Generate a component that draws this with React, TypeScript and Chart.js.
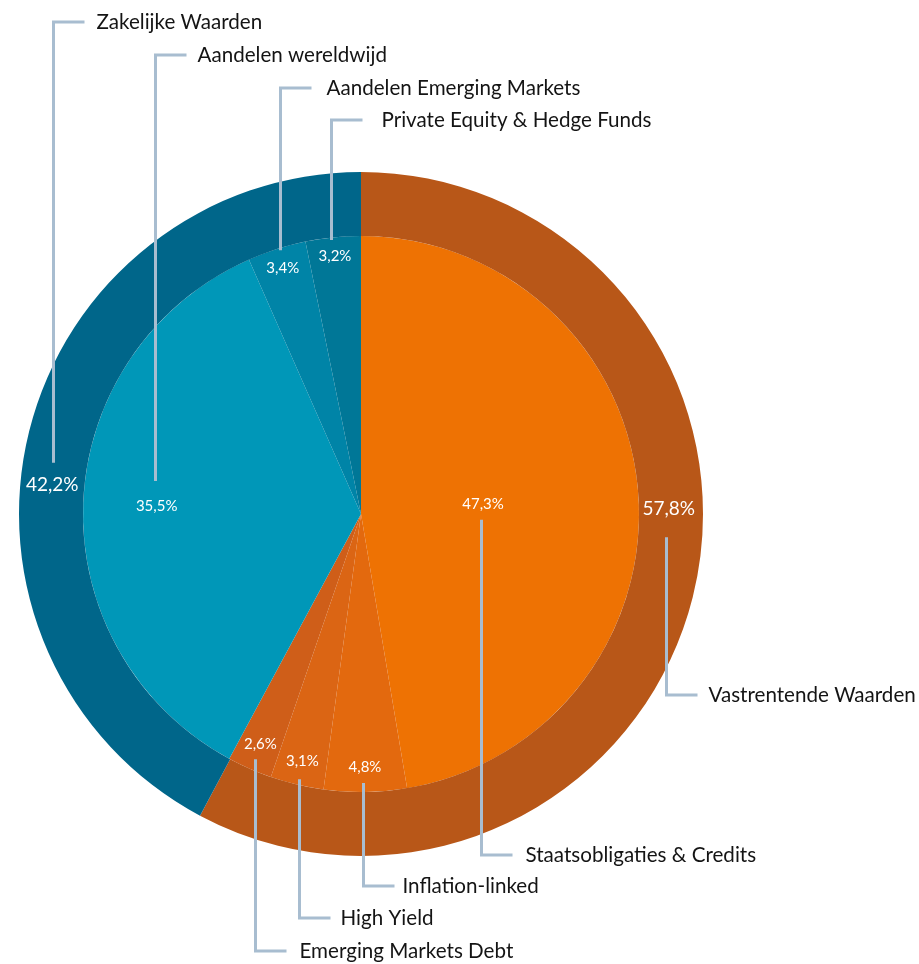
import React, { useEffect, useRef } from "react";
import { Chart, registerables } from "chart.js";

Chart.register(...registerables);

// ---- data ----
const outerLabels = ["Vastrentende Waarden", "Zakelijke Waarden"];
const outerValues = [57.8, 42.2];
const outerPct = ["57,8%", "42,2%"];

const innerLabels = [
  "Staatsobligaties & Credits",
  "Inflation-linked",
  "High Yield",
  "Emerging Markets Debt",
  "Aandelen wereldwijd",
  "Aandelen Emerging Markets",
  "Private Equity & Hedge Funds",
];
const innerValues = [47.3, 4.8, 3.1, 2.6, 35.5, 3.4, 3.2];
const innerPct = ["47,3%", "4,8%", "3,1%", "2,6%", "35,5%", "3,4%", "3,2%"];

// ---- styles ----
const outerColors = ["#B85718", "#00668A"];
const innerColors = ["#EE7203", "#E3690E", "#DB6514", "#CF5E19", "#0097B8", "#0084A7", "#007797"];
const LEADER = "#A8BDD0";
const TEXT_FONT = "Lato, 'Open Sans', sans-serif";

// label placement (annotation layout): outer labels by angle (deg clockwise from top) & radius fraction of outer radius
const outerLabelLayout = [
  { angle: 89.1, r: 0.9, dir: 1, gap: 28, textY: 695, dx: -3, tx: 42 },
  { angle: 275.4, r: 0.907, dir: -1, gap: 22, textY: 22, dx: 1, tx: 43 },
];
// inner labels placed at slice mid-angle, radius fraction of outer radius
const innerLabelLayout = [
  { r: 0.358, dir: 1, gap: 16, textY: 855, dx: -2, tx: 44 },
  { r: 0.74, dir: 1, gap: 16, textY: 886, dx: -2, tx: 39 },
  { r: 0.743, dir: 1, gap: 18, textY: 918, dx: -3, tx: 41 },
  { r: 0.735, dir: 1, gap: 15, textY: 951, dx: -5, tx: 44 },
  { r: 0.598, dir: -1, gap: 25, textY: 55, dx: -2, tx: 42 },
  { r: 0.754, dir: -1, gap: 18, textY: 88, dx: -3, tx: 46 },
  { r: 0.758, dir: -1, gap: 16, textY: 120, dx: -4, tx: 50 },
];

const labelPlugin = {
  id: "pieLabels",
  afterDraw(chart: any) {
    const ctx = chart.ctx as CanvasRenderingContext2D;
    const m0 = chart.getDatasetMeta(0);
    const m1 = chart.getDatasetMeta(1);
    const a0 = m0.data[0] as any;
    const cx = a0.x;
    const cy = a0.y;
    const R = a0.outerRadius;

    const items: any[] = [];
    outerLabelLayout.forEach((l, i) => {
      const ang = (l.angle * Math.PI) / 180;
      items.push({
        x: cx + Math.sin(ang) * R * l.r,
        y: cy - Math.cos(ang) * R * l.r,
        pct: outerPct[i],
        name: outerLabels[i],
        size: 19,
        l,
      });
    });
    innerLabelLayout.forEach((l, i) => {
      const arc = m1.data[i] as any;
      const mid = (arc.startAngle + arc.endAngle) / 2;
      items.push({
        x: cx + Math.cos(mid) * R * l.r,
        y: cy + Math.sin(mid) * R * l.r,
        pct: innerPct[i],
        name: innerLabels[i],
        size: 15,
        l,
      });
    });

    ctx.save();
    items.forEach((it) => {
      const { l } = it;
      const lx = Math.round(it.x + l.dx) + 0.5;
      // leader line
      ctx.strokeStyle = LEADER;
      ctx.lineWidth = 3;
      ctx.lineCap = "butt";
      ctx.beginPath();
      ctx.moveTo(lx, it.y + l.dir * l.gap);
      ctx.lineTo(lx, l.textY);
      ctx.lineTo(lx + 31, l.textY);
      ctx.stroke();
      // percentage
      ctx.fillStyle = "#FFFFFF";
      ctx.font = `${it.size}px ${TEXT_FONT}`;
      ctx.textAlign = "center";
      ctx.textBaseline = "middle";
      ctx.fillText(it.pct, it.x, it.y);
      // name
      ctx.fillStyle = "#141414";
      ctx.font = `20.6px ${TEXT_FONT}`;
      ctx.textAlign = "left";
      ctx.fillText(it.name, lx + l.tx, l.textY);
    });
    ctx.restore();
  },
};

export default function App() {
  const ref = useRef<HTMLCanvasElement>(null);
  useEffect(() => {
    document.body.style.margin = "0";
    const chart = new Chart(ref.current!, {
      type: "doughnut",
      data: {
        labels: innerLabels,
        datasets: [
          {
            data: outerValues,
            backgroundColor: outerColors,
            borderWidth: 0,
            hoverBorderWidth: 0,
            hoverOffset: 0,
            weight: 64,
          } as any,
          {
            data: innerValues,
            backgroundColor: innerColors,
            borderWidth: 0,
            hoverBorderWidth: 0,
            hoverOffset: 0,
            weight: 278,
          } as any,
        ],
      },
      options: {
        responsive: false,
        animation: false,
        cutout: 0,
        rotation: 0,
        layout: { padding: { left: 19, right: 216, top: 172, bottom: 108 } },
        plugins: {
          legend: { display: false },
          tooltip: { enabled: false },
        },
        events: [],
      },
      plugins: [labelPlugin],
    });
    return () => chart.destroy();
  }, []);
  return (
    <div style={{ position: "absolute", left: 0, top: 0, width: 919, height: 964 }}>
      <canvas ref={ref} width={919} height={964} style={{ display: "block" }} />
    </div>
  );
}
